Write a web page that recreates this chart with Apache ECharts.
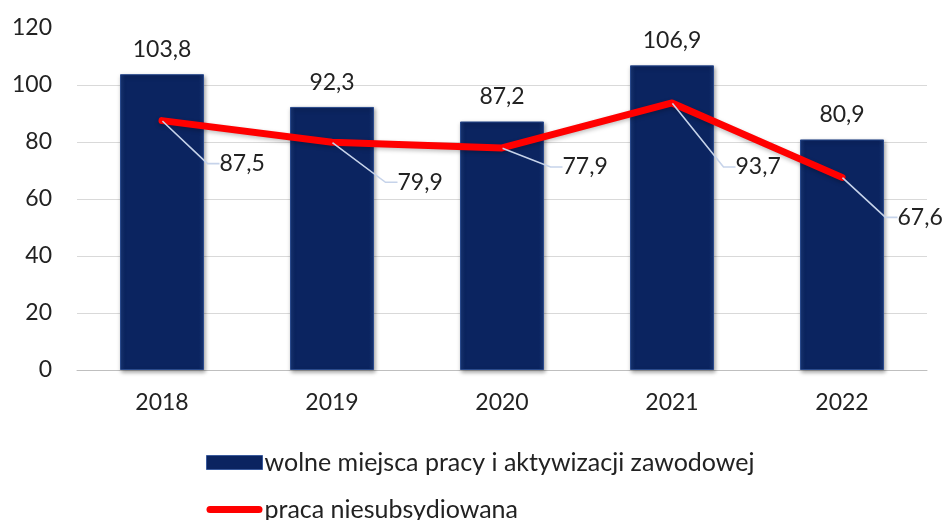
<!DOCTYPE html>
<html>
<head>
<meta charset="utf-8">
<script src="https://cdn.jsdelivr.net/npm/echarts@6/dist/echarts.min.js"></script>
<style>
html,body{margin:0;padding:0;background:#fff;}
#chart{width:948px;height:520px;}
</style>
</head>
<body>
<div id="chart"></div>
<script>
const categories = ['2018', '2019', '2020', '2021', '2022'];
const barValues = [103.8, 92.3, 87.2, 106.9, 80.9];
const lineValues = [87.5, 79.9, 77.9, 93.7, 67.6];
const barName = 'wolne miejsca pracy i aktywizacji zawodowej';
const lineName = 'praca niesubsydiowana';
const yTicks = { min: 0, max: 120, interval: 20 };

const FONT = 'Lato, "Open Sans", sans-serif';
const fmt = v => String(v).replace('.', ',');

// label placement (style only): offsets of the line labels, as in the reference
const lineLabelShift = [[48, 43], [56, 40], [51, 19], [54, 64], [46, 40]];

const chart = echarts.init(document.getElementById('chart'), null, { renderer: 'canvas' });
chart.setOption({
  animation: false,
  backgroundColor: '#fff',
  textStyle: { fontFamily: FONT },
  grid: { left: 77, right: 21, top: 28, bottom: 150, containLabel: false },
  legend: {
    orient: 'vertical',
    left: 206,
    top: 450,
    height: 120,
    padding: 0,
    itemGap: 22,
    itemWidth: 56,
    itemHeight: 14,
    textStyle: { fontFamily: FONT, fontSize: 25, color: '#222', padding: [0, 0, 0, -3] },
    data: [
      { name: barName, icon: 'rect', itemStyle: { color: '#0b2460', borderColor: '#3a5a9c', borderWidth: 1, shadowBlur: 0, shadowOffsetX: 0, shadowOffsetY: 0 } },
      { name: lineName, icon: 'path://M3.5,0 L52.5,0 A3.5,3.5 0 0 1 52.5,7 L3.5,7 A3.5,3.5 0 0 1 3.5,0 Z' }
    ]
  },
  xAxis: {
    type: 'category',
    data: categories,
    axisLine: { lineStyle: { color: '#bfbfbf', width: 1 } },
    axisTick: { show: false },
    axisLabel: { fontFamily: FONT, fontSize: 23, color: '#222', margin: 21 }
  },
  yAxis: {
    type: 'value',
    min: yTicks.min,
    max: yTicks.max,
    interval: yTicks.interval,
    axisLine: { show: false },
    axisTick: { show: false },
    axisLabel: { fontFamily: FONT, fontSize: 23, color: '#222', margin: 25 },
    splitLine: { lineStyle: { color: ['#d9d9d9','#d9d9d9','#d9d9d9','#d9d9d9','#d9d9d9','#d9d9d9','rgba(0,0,0,0)'], width: 1 } }
  },
  series: [
    {
      name: barName,
      type: 'bar',
      data: barValues,
      barWidth: 84,
      itemStyle: {
        color: new echarts.graphic.LinearGradient(0, 0, 1, 0, [
          { offset: 0, color: '#1a3878' },
          { offset: 0.06, color: '#0b2460' },
          { offset: 0.94, color: '#0b2460' },
          { offset: 1, color: '#1a3878' }
        ]),
        borderColor: '#2a4a8c',
        borderWidth: 1,
        shadowColor: 'rgba(0,0,0,0.35)',
        shadowBlur: 4,
        shadowOffsetX: 1,
        shadowOffsetY: 2
      },
      label: {
        show: true,
        position: 'top',
        distance: 13,
        fontFamily: FONT,
        fontSize: 23,
        color: '#222',
        formatter: p => fmt(p.value)
      }
    },
    {
      name: lineName,
      type: 'line',
      data: lineValues,
      showSymbol: true,
      symbol: 'circle',
      symbolSize: 1,
      lineStyle: { color: '#ff0000', width: 7, cap: 'round', join: 'round',
        shadowColor: 'rgba(0,0,0,0.25)', shadowBlur: 4, shadowOffsetY: 2 },
      itemStyle: { color: '#ff0000' },
      z: 5,
      label: {
        show: true,
        position: 'right',
        distance: 0,
        padding: [0, 0, 0, 9],
        fontFamily: FONT,
        fontSize: 23,
        color: '#222',
        formatter: p => fmt(p.value)
      },
      labelLayout: p => ({ dx: lineLabelShift[p.dataIndex][0], dy: lineLabelShift[p.dataIndex][1] }),
      labelLine: {
        show: true,
        length2: 12,
        lineStyle: { color: '#c6d3ea', width: 1.6 }
      }
    }
  ]
});
</script>
</body>
</html>
